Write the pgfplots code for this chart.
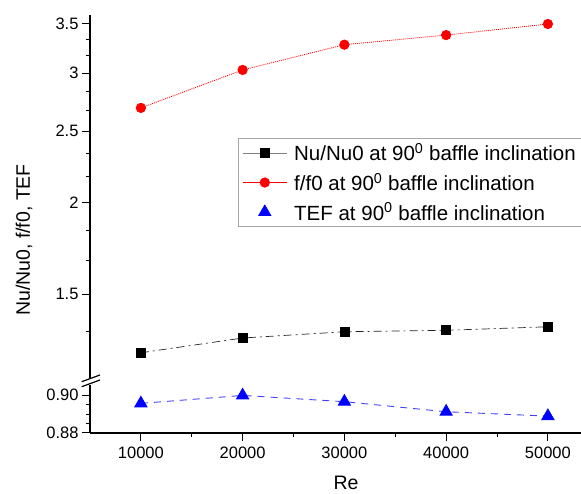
\documentclass[border=0pt]{standalone}
\usepackage{fontspec}
\setmainfont{Liberation Sans}
\usepackage{pgfplots}
\pgfplotsset{compat=1.18}

\pgfplotsset{
  brk/.style={
    scale only axis, width=491pt,
    xmin=5000, xmax=53255,
    tick align=outside,
    major tick length=8pt, minor tick length=4pt,
    every tick/.style={black, line width=1pt},
    axis line style={-, line width=1.5pt},
    ticklabel style={font=\fontsize{16.5}{18}\selectfont},
    /pgf/number format/assume math mode=true,
    clip=false,
  },
  legend image code/.code={%
    \draw[mark repeat=2, mark phase=2, #1]
      plot coordinates {(0pt,0pt) (22pt,0pt) (44pt,0pt)};},
}

\begin{document}
\begin{tikzpicture}
% lower part (TEF)
\begin{axis}[brk, at={(0pt,0pt)}, height=48pt,
  axis x line*=bottom, axis y line*=left,
  ymin=0.88, ymax=0.9053,
  ytick={0.88,0.90}, yticklabels={0.88,0.90},
  minor ytick={0.885,0.89,0.895},
  xtick={10000,20000,30000,40000,50000},
  minor xtick={15000,25000,35000,45000},
  scaled x ticks=false,
  xticklabel style={/pgf/number format/set thousands separator={}},
  xticklabel style={yshift=-2pt},
]
\addplot[blue!75, line width=0.9pt, dash pattern=on 7pt off 6pt,
  mark=triangle*, mark size=7pt, mark options={solid, blue, draw=blue}]
  coordinates {(10000,0.8956) (20000,0.8998) (30000,0.8965) (40000,0.8912) (50000,0.8889)};
\end{axis}
% upper part (Nu/Nu0, f/f0)
\begin{axis}[brk, at={(0pt,55pt)}, height=363pt,
  ymode=log, axis x line=none, axis y line*=left,
  ymin=1.153, ymax=3.60,
  ytick={1.5,2,2.5,3,3.5}, yticklabels={1.5,2,2.5,3,3.5},
  minor ytick={1.3333,1.6667,1.8333,2.1667,2.3333,2.6667,2.8333,3.1667,3.3333},
  legend style={at={(0.3014,0.661)}, anchor=north west,
    draw=gray!70, line width=0.8pt, fill=white,
    font=\fontsize{20.5}{24}\selectfont, row sep=6.5pt,
    inner xsep=4pt, inner ysep=3pt,
    /tikz/every odd column/.append style={column sep=5pt}},
  legend cell align=left,
]
\addplot[black!85, line width=0.7pt, dash pattern=on 8pt off 4pt on 2pt off 4pt,
  mark=square*, mark size=4.5pt, mark options={solid, black}, forget plot]
  coordinates {(10000,1.248) (20000,1.307) (30000,1.333) (40000,1.339) (50000,1.354)};
\addplot[red, line width=0.8pt, dash pattern=on 1pt off 1pt,
  mark=*, mark size=4.7pt, mark options={solid, red}, forget plot]
  coordinates {(10000,2.69) (20000,3.03) (30000,3.28) (40000,3.38) (50000,3.50)};
\addlegendimage{gray, line width=0.8pt, mark=square*, mark size=4.5pt, mark options={black}}
\addlegendentry{Nu/Nu0 at 90\textsuperscript{0} baffle inclination}
\addlegendimage{red, line width=0.8pt, mark=*, mark size=4.7pt, mark options={red}}
\addlegendentry{f/f0 at 90\textsuperscript{0} baffle inclination}
\addlegendimage{only marks, mark=triangle*, mark size=7pt, mark options={blue}}
\addlegendentry{TEF at 90\textsuperscript{0} baffle inclination}
\end{axis}
% axis break marks
\draw[line width=1.2pt] (-8.3pt,51.3pt) -- (10pt,58pt);
\draw[line width=1.2pt] (-8.3pt,46.3pt) -- (10pt,53pt);
% axis titles
\node[rotate=90, font=\fontsize{19.5}{22}\selectfont] at (-66pt,193pt) {Nu/Nu0, f/f0, TEF};
\node[font=\fontsize{19.5}{22}\selectfont] at (256pt,-50pt) {Re};
\pgfresetboundingbox
\useasboundingbox (-90pt,-61pt) rectangle (491pt,433pt);
\end{tikzpicture}
\end{document}
